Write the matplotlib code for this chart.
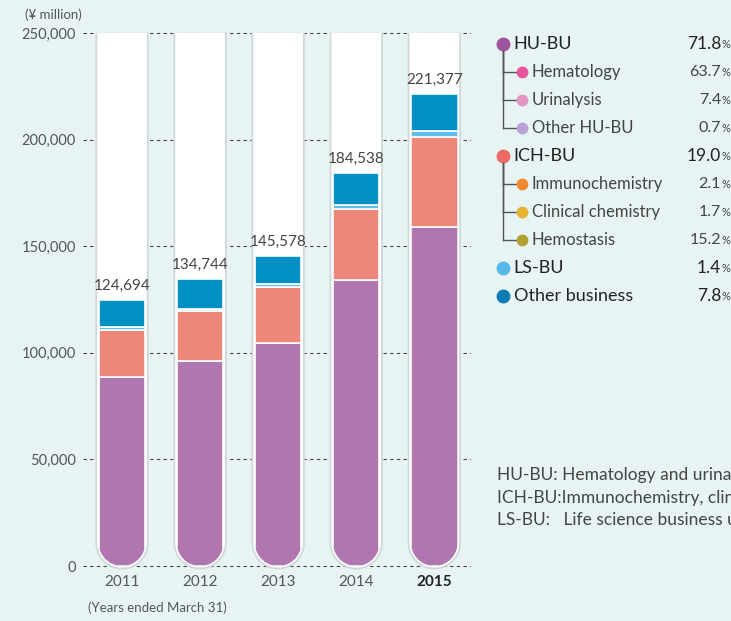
import numpy as np
import matplotlib.pyplot as plt
from matplotlib.path import Path
from matplotlib.patches import PathPatch

years = ['2011', '2012', '2013', '2014', '2015']
totals = [124694, 134744, 145578, 184538, 221377]
hu_bu = [88600, 96200, 104400, 134100, 158900]
ich_bu = [22000, 23500, 26500, 33500, 42100]
ls_bu = [1500, 800, 1200, 1600, 3100]
other_biz = [12594, 14244, 13478, 15338, 17277]

yticks = [0, 50000, 100000, 150000, 200000, 250000]

legend_labels = ['HU-BU', 'Hematology', 'Urinalysis', 'Other HU-BU', 'ICH-BU',
                 'Immunochemistry', 'Clinical chemistry', 'Hemostasis', 'LS-BU', 'Other business']
legend_pcts = ['71.8', '63.7', '7.4', '0.7', '19.0', '2.1', '1.7', '15.2', '1.4', '7.8']
legend_level = [0, 1, 1, 1, 0, 1, 1, 1, 0, 0]
legend_colors = ['#9c549c', '#e8559a', '#e095c2', '#b8a2d6', '#ec6b63',
                 '#f28a32', '#e8b232', '#ada232', '#55b8e8', '#0a7db8']

notes = ['HU-BU: Hematology and urinalysis business unit',
         'ICH-BU:Immunochemistry, clinical chemistry and hemostasis business unit',
         'LS-BU:   Life science business unit']

bg = '#e8f4f4'
seg_colors = ['#b076b0', '#ef867a', '#62bde8', '#0090c4']

plt.rcParams['font.family'] = ['Lato', 'DejaVu Sans']

fig = plt.figure(figsize=(7.31, 6.21), dpi=100, facecolor=bg)
ax = fig.add_axes([83 / 731, (621 - 572.4) / 621, (471 - 83) / 731, (572.4 - 26.6) / 621])
ax.set_facecolor(bg)
ax.set_xlim(-0.5, 4.47)
ax.set_ylim(-3000, 253000)
for s in ax.spines.values():
    s.set_visible(False)

for v in yticks:
    ax.axhline(v, color='#444444', lw=0.8, ls=(0, (3, 3)), zorder=0)

ax.set_yticks(yticks)
ax.set_yticklabels([f'{v:,}' for v in yticks])
ax.tick_params(axis='y', length=0, pad=5, labelcolor='#555555', labelsize=10.5)
ax.set_xticks(range(len(years)))
ax.set_xticklabels(years)
ax.tick_params(axis='x', length=0, pad=2, labelcolor='#555555', labelsize=11)
ax.get_xticklabels()[-1].set_color('#222222')
ax.get_xticklabels()[-1].set_fontweight('bold')

# pixel scale, to keep the tube bottoms round
p0 = ax.transData.transform((0, 0))
p1 = ax.transData.transform((1, 1))
sx, sy = p1[0] - p0[0], p1[1] - p0[1]


def tube(xc, hw, bottom, top, closed=True):
    ry = hw * sx / sy
    t = np.linspace(np.pi, 2 * np.pi, 40)
    verts = [(xc - hw, top)] + list(zip(xc + hw * np.cos(t), bottom + ry + ry * np.sin(t))) + [(xc + hw, top)]
    codes = [Path.MOVETO] + [Path.LINETO] * (len(verts) - 1)
    if closed:
        verts.append((xc - hw, top))
        codes.append(Path.CLOSEPOLY)
    return Path(verts, codes)


bar_w = 0.595
x = np.arange(len(years))
for i in x:
    ax.add_patch(PathPatch(tube(i, 0.33, -1200, 250000), facecolor='white', edgecolor='none', zorder=1))
    ax.add_patch(PathPatch(tube(i, 0.33, -1200, 250000, closed=False), fill=False,
                           edgecolor='#cfd9d9', lw=1.3, zorder=1))

bottom = np.zeros(len(years))
for vals, c in zip([hu_bu, ich_bu, ls_bu, other_biz], seg_colors):
    bars = ax.bar(x, vals, bottom=bottom, width=bar_w, color=c, edgecolor='white', lw=1.2, zorder=2)
    for i, rect in enumerate(bars):
        rect.set_clip_path(tube(i, bar_w / 2, 0, 250000), ax.transData)
    bottom += np.array(vals)

for i, t in enumerate(totals):
    ax.annotate(f'{t:,}', (i, t), xytext=(0, 5), textcoords='offset points',
                ha='center', va='bottom', color='#444444', fontsize=11, zorder=3)

# overlay in pixel coords for legend and notes
ov = fig.add_axes([0, 0, 1, 1], facecolor='none')
ov.set_xlim(0, 731)
ov.set_ylim(621, 0)
ov.axis('off')

ov.text(25, 15, '(¥ million)', fontsize=9.5, color='#555555', va='center')
ov.text(88, 608, '(Years ended March 31)', fontsize=9.5, color='#555555', va='center')

y0, step = 44, 28
x_main, x_sub = 502.7, 521.7
parent_y = None
for k, (lab, pct, lev, c) in enumerate(zip(legend_labels, legend_pcts, legend_level, legend_colors)):
    y = y0 + k * step
    if lev == 0:
        parent_y = y
        ov.plot(x_main, y, 'o', ms=9, color=c)
        ov.text(x_main + 11, y, lab, fontsize=13, color='#222222', va='center')
        ov.text(721, y, pct, fontsize=12.5, color='#222222', va='center', ha='right')
    else:
        ov.plot([x_main, x_main], [parent_y + 7, y], color='#555555', lw=1)
        ov.plot([x_main, x_sub], [y, y], color='#555555', lw=1)
        ov.plot(x_sub, y, 'o', ms=7.5, color=c)
        ov.text(x_sub + 10, y, lab, fontsize=12, color='#444444', va='center')
        ov.text(721, y, pct, fontsize=11.5, color='#444444', va='center', ha='right')
    ov.text(722, y + 1, '%', fontsize=8, color='#444444', va='center')

for k, note in enumerate(notes):
    ov.text(497, 475 + k * 22.5, note, fontsize=12.5, color='#444444', va='center')

fig.savefig('out.png', dpi=100, facecolor=bg)
